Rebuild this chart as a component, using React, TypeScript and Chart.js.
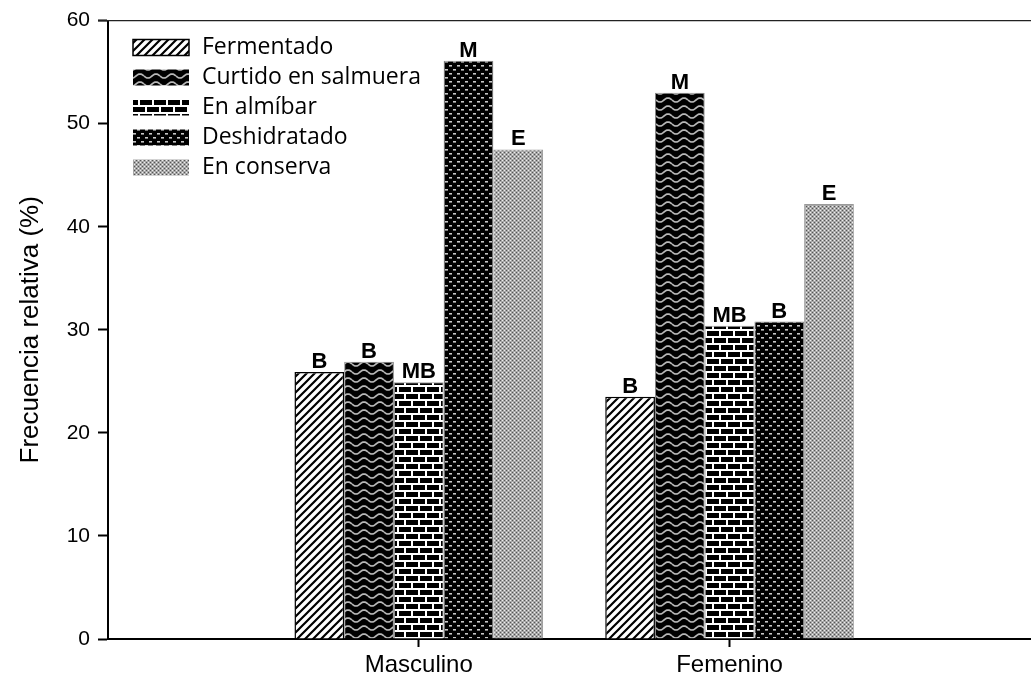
import React, { useEffect, useRef } from "react";
import { Chart, registerables } from "chart.js";

Chart.register(...registerables);

const categories = ["Masculino", "Femenino"];
const seriesNames = ["Fermentado", "Curtido en salmuera", "En almíbar", "Deshidratado", "En conserva"];
const fermentado = [25.9, 23.5];
const curtido = [26.9, 53.0];
const almibar = [24.9, 30.4];
const deshidratado = [56.1, 30.8];
const conserva = [47.5, 42.2];
const fermentadoLabels = ["B", "B"];
const curtidoLabels = ["B", "M"];
const almibarLabels = ["MB", "MB"];
const deshidratadoLabels = ["M", "B"];
const conservaLabels = ["E", "E"];
const yTicks = [0, 10, 20, 30, 40, 50, 60];

function makeTile(w: number, h: number, draw: (c: CanvasRenderingContext2D) => void): CanvasPattern {
  const cv = document.createElement("canvas");
  cv.width = w;
  cv.height = h;
  const c = cv.getContext("2d")!;
  draw(c);
  const main = document.createElement("canvas").getContext("2d")!;
  return main.createPattern(cv, "repeat")!;
}

function buildPatterns(): CanvasPattern[] {
  const diag = makeTile(8, 8, (c) => {
    c.fillStyle = "#fff";
    c.fillRect(0, 0, 8, 8);
    c.strokeStyle = "#000";
    c.lineWidth = 2.2;
    c.beginPath();
    c.moveTo(-2, 10);
    c.lineTo(10, -2);
    c.moveTo(-6, 6);
    c.lineTo(6, -6);
    c.moveTo(2, 14);
    c.lineTo(14, 2);
    c.stroke();
  });
  const wave = makeTile(16, 8, (c) => {
    c.fillStyle = "#000";
    c.fillRect(0, 0, 16, 8);
    c.strokeStyle = "#b8b8b8";
    c.lineWidth = 1.7;
    c.beginPath();
    for (let x = 0; x <= 16; x += 0.5) {
      const y = 4 + 2 * Math.sin((x / 16) * Math.PI * 2);
      if (x === 0) c.moveTo(x, y);
      else c.lineTo(x, y);
    }
    c.stroke();
  });
  const brick = makeTile(28, 14, (c) => {
    c.fillStyle = "#fff";
    c.fillRect(0, 0, 28, 14);
    c.fillStyle = "#000";
    c.fillRect(0, 2, 12, 5);
    c.fillRect(14, 2, 12, 5);
    c.fillRect(0, 9, 5, 5);
    c.fillRect(7, 9, 12, 5);
    c.fillRect(21, 9, 7, 5);
  });
  const dots = makeTile(8, 8, (c) => {
    c.fillStyle = "#000";
    c.fillRect(0, 0, 8, 8);
    c.fillStyle = "#c8c8c8";
    c.fillRect(1, 1, 3, 1);
    c.fillRect(5, 5, 3, 1);
    c.fillStyle = "#777";
    c.fillRect(1, 2, 3, 1);
    c.fillRect(5, 6, 3, 1);
  });
  const fine = makeTile(4, 4, (c) => {
    c.fillStyle = "#a8a8a8";
    c.fillRect(0, 0, 4, 4);
    c.fillStyle = "#555";
    c.fillRect(0, 0, 1, 1);
    c.fillRect(2, 2, 1, 1);
    c.fillStyle = "#eee";
    c.fillRect(2, 0, 1, 1);
    c.fillRect(0, 2, 1, 1);
  });
  return [diag, wave, brick, dots, fine];
}

const barLabelsPlugin = {
  id: "barLabels",
  afterDatasetsDraw(chart: any) {
    const ctx = chart.ctx;
    const labelSets = [fermentadoLabels, curtidoLabels, almibarLabels, deshidratadoLabels, conservaLabels];
    ctx.save();
    ctx.fillStyle = "#000";
    ctx.font = "bold 22px 'Liberation Sans', Arial, sans-serif";
    ctx.textAlign = "center";
    ctx.textBaseline = "alphabetic";
    chart.data.datasets.forEach((_: any, di: number) => {
      const meta = chart.getDatasetMeta(di);
      meta.data.forEach((el: any, i: number) => {
        ctx.fillText(labelSets[di][i], el.x, el.y - 4);
      });
    });
    ctx.restore();
  },
};

const frameLegendPlugin = {
  id: "frameLegend",
  afterDraw(chart: any) {
    const ctx = chart.ctx;
    const area = chart.chartArea;
    ctx.save();
    ctx.strokeStyle = "#222";
    ctx.lineWidth = 1.4;
    ctx.beginPath();
    ctx.moveTo(area.left - 10, area.top);
    ctx.lineTo(area.right, area.top);
    ctx.stroke();
    const x0 = 133;
    const y0 = 47.5;
    const step = 30;
    chart.data.datasets.forEach((ds: any, i: number) => {
      const cy = y0 + i * step;
      ctx.fillStyle = ds.backgroundColor;
      ctx.fillRect(x0, cy - 8, 56, 16);
      if (i === 0) {
        ctx.strokeStyle = "#000";
        ctx.lineWidth = 1.5;
        ctx.strokeRect(x0, cy - 8, 56, 16);
      }
      ctx.fillStyle = "#000";
      ctx.font = "23px 'Open Sans', sans-serif";
      ctx.textAlign = "left";
      ctx.textBaseline = "middle";
      ctx.fillText(ds.label, 202, cy);
    });
    ctx.restore();
  },
};

export default function App() {
  const ref = useRef<HTMLCanvasElement | null>(null);
  useEffect(() => {
    if (!ref.current) return;
    const patterns = buildPatterns();
    const values = [fermentado, curtido, almibar, deshidratado, conserva];
    const borders = ["#000", "#888", "#999", "#888", "#999"];
    const chart = new Chart(ref.current, {
      type: "bar",
      data: {
        datasets: values.map((arr, i) => ({
          label: seriesNames[i],
          data: arr.map((v, j) => ({ x: j + 1, y: v })),
          backgroundColor: patterns[i] as any,
          borderColor: borders[i],
          borderWidth: i === 0 ? 1.5 : 1,
          barPercentage: 1,
          categoryPercentage: 0.8,
        })),
      },
      options: {
        animation: false,
        responsive: false,
        layout: { padding: { top: 17, left: 0, right: 0, bottom: 0 } },
        plugins: { legend: { display: false }, tooltip: { enabled: false } },
        scales: {
          x: {
            type: "linear",
            offset: false,
            min: 0,
            max: 2.97,
            afterBuildTicks: (scale: any) => {
              scale.ticks = categories.map((_, i) => ({ value: i + 1 }));
            },
            afterFit: (scale: any) => {
              scale.height = 49;
            },
            ticks: {
              callback: (v: any) => categories[Number(v) - 1] ?? "",
              color: "#000",
              font: { family: "'Liberation Sans', Arial, sans-serif", size: 24 },
              padding: 4,
              maxRotation: 0,
              autoSkip: false,
            },
            grid: { offset: false, drawOnChartArea: false, tickLength: 8, tickWidth: 2, tickColor: "#000" },
            border: { display: true, color: "#000", width: 2 },
          },
          y: {
            min: 0,
            max: 60,
            afterBuildTicks: (scale: any) => {
              scale.ticks = yTicks.map((v) => ({ value: v }));
            },
            afterFit: (scale: any) => {
              scale.width = 108;
            },
            ticks: {
              color: "#000",
              font: { family: "'Liberation Sans', Arial, sans-serif", size: 21 },
              padding: 8,
            },
            grid: { drawOnChartArea: false, tickLength: 10, tickWidth: 2, tickColor: "#000" },
            border: { display: true, color: "#000", width: 2 },
            title: {
              display: true,
              text: "Frecuencia relativa (%)",
              color: "#000",
              font: { family: "'Liberation Sans', Arial, sans-serif", size: 26 },
              padding: { top: 15, bottom: 4 },
            },
          },
        },
      },
      plugins: [barLabelsPlugin, frameLegendPlugin],
    });
    return () => chart.destroy();
  }, []);
  return (
    <div style={{ position: "fixed", left: 0, top: 0, width: 1031, height: 688, background: "#fff" }}>
      <canvas ref={ref} width={1031} height={688} style={{ display: "block" }} />
    </div>
  );
}
